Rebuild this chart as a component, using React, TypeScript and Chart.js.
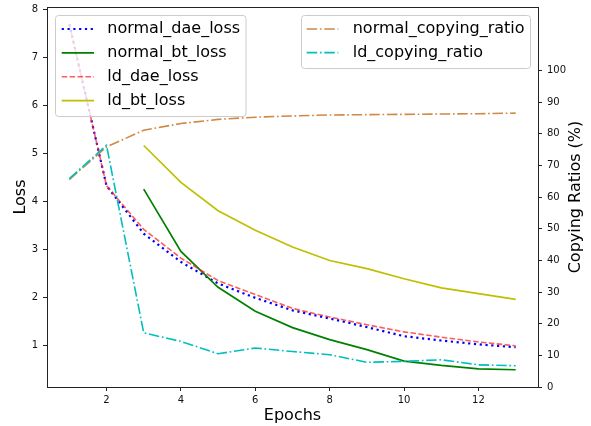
import React, { useEffect, useRef } from 'react';
import { Chart, registerables } from 'chart.js';

Chart.register(...registerables);

const epochs = [1, 2, 3, 4, 5, 6, 7, 8, 9, 10, 11, 12, 13];
const normalDaeLoss = [7.7, 4.33, 3.33, 2.74, 2.29, 1.99, 1.73, 1.56, 1.38, 1.19, 1.1, 1.02, 0.96];
const normalBtLoss = [null, null, 4.26, 2.96, 2.21, 1.71, 1.37, 1.12, 0.91, 0.67, 0.58, 0.51, 0.49];
const ldDaeLoss = [7.7, 4.33, 3.42, 2.82, 2.35, 2.06, 1.77, 1.59, 1.43, 1.28, 1.17, 1.07, 0.99];
const ldBtLoss = [null, null, 5.17, 4.4, 3.81, 3.4, 3.05, 2.77, 2.6, 2.39, 2.2, 2.08, 1.96];
const normalCopyingRatio = [65.5, 75.8, 81.1, 83.2, 84.5, 85.2, 85.6, 85.9, 86.0, 86.1, 86.2, 86.3, 86.5];
const ldCopyingRatio = [65.8, 76.3, 17.1, 14.4, 10.5, 12.3, 11.2, 10.2, 7.8, 8.1, 8.6, 7.0, 6.7];

const xTicks = [2, 4, 6, 8, 10, 12];
const lossTicks = [1, 2, 3, 4, 5, 6, 7, 8];
const ratioTicks = [0, 10, 20, 30, 40, 50, 60, 70, 80, 90, 100];

const xLabel = 'Epochs';
const yLabel = 'Loss';
const y2Label = 'Copying Ratios (%)';

const FONT = '"DejaVu Sans", sans-serif';
const W = 591;
const H = 426;

function pts(vals: (number | null)[]) {
  return epochs
    .map((e, i) => ({ x: e, y: vals[i] }))
    .filter((p) => p.y !== null) as { x: number; y: number }[];
}

const series = [
  { label: 'normal_dae_loss', vals: normalDaeLoss, color: '#0000ff', dash: [2.2, 3.6], width: 2.2, axis: 'y', order: 5 },
  { label: 'normal_bt_loss', vals: normalBtLoss, color: '#008000', dash: [], width: 1.7, axis: 'y', order: 4 },
  { label: 'ld_dae_loss', vals: ldDaeLoss, color: 'rgba(255,30,30,0.72)', dash: [5.5, 2.4], width: 1.6, axis: 'y', order: 3 },
  { label: 'ld_bt_loss', vals: ldBtLoss, color: '#bfbf00', dash: [], width: 1.7, axis: 'y', order: 2 },
  { label: 'normal_copying_ratio', vals: normalCopyingRatio, color: '#d08845', dash: [10.5, 2.7, 1.7, 2.7], width: 1.6, axis: 'y2', order: 1 },
  { label: 'ld_copying_ratio', vals: ldCopyingRatio, color: '#00bfbf', dash: [10.5, 2.7, 1.7, 2.7], width: 1.6, axis: 'y2', order: 0 },
];

const legendBoxes = [
  { items: [0, 1, 2, 3], x: 55.5, y: 15.5, w: 190.5, h: 101, sx0: 61.7, sx1: 94, tx: 107.3, rowY: [29, 52.9, 76.8, 100.7] },
  { items: [4, 5], x: 301.5, y: 15.5, w: 229, h: 53, sx0: 306.7, sx1: 338.3, tx: 352.7, rowY: [29, 52.6] },
];

function roundRect(ctx: CanvasRenderingContext2D, x: number, y: number, w: number, h: number, r: number) {
  ctx.beginPath();
  ctx.moveTo(x + r, y);
  ctx.lineTo(x + w - r, y);
  ctx.arcTo(x + w, y, x + w, y + r, r);
  ctx.lineTo(x + w, y + h - r);
  ctx.arcTo(x + w, y + h, x + w - r, y + h, r);
  ctx.lineTo(x + r, y + h);
  ctx.arcTo(x, y + h, x, y + h - r, r);
  ctx.lineTo(x, y + r);
  ctx.arcTo(x, y, x + r, y, r);
  ctx.closePath();
}

const overlayPlugin = {
  id: 'overlay',
  afterDatasetsDraw(chart: any) {
    const ctx: CanvasRenderingContext2D = chart.ctx;
    const a = chart.chartArea;
    ctx.save();
    // frame (spines)
    ctx.strokeStyle = '#222';
    ctx.lineWidth = 1;
    ctx.setLineDash([]);
    ctx.strokeRect(Math.round(a.left) + 0.5, Math.round(a.top) + 0.5, Math.round(a.right) - Math.round(a.left), Math.round(a.bottom) - Math.round(a.top));

    // legends
    for (const box of legendBoxes) {
      roundRect(ctx, box.x, box.y, box.w, box.h, 3);
      ctx.fillStyle = 'rgba(255,255,255,0.8)';
      ctx.fill();
      ctx.strokeStyle = '#cccccc';
      ctx.lineWidth = 1;
      ctx.stroke();
      box.items.forEach((idx, k) => {
        const s = series[idx];
        const y = box.rowY[k];
        ctx.beginPath();
        ctx.setLineDash(s.dash);
        ctx.lineWidth = s.width;
        ctx.strokeStyle = s.color;
        ctx.lineCap = 'butt';
        ctx.moveTo(box.sx0, y);
        ctx.lineTo(box.sx1, y);
        ctx.stroke();
        ctx.setLineDash([]);
        ctx.fillStyle = '#000';
        ctx.font = `16px ${FONT}`;
        ctx.textAlign = 'left';
        ctx.textBaseline = 'middle';
        ctx.fillText(s.label, box.tx, y);
      });
    }

    // right axis title (reads bottom to top)
    ctx.save();
    ctx.translate(576, (a.top + a.bottom) / 2);
    ctx.rotate(-Math.PI / 2);
    ctx.fillStyle = '#000';
    ctx.font = `16px ${FONT}`;
    ctx.textAlign = 'center';
    ctx.textBaseline = 'middle';
    ctx.fillText(y2Label, 0, 0);
    ctx.restore();
    ctx.restore();
  },
};

function zeroPad(s: any) {
  s.paddingTop = 0;
  s.paddingBottom = 0;
  s.paddingLeft = 0;
  s.paddingRight = 0;
}

export default function App() {
  const ref = useRef<HTMLCanvasElement | null>(null);
  useEffect(() => {
    if (!ref.current) return;
    const tickFont = { family: FONT, size: 10 };
    const grid = { display: true, drawOnChartArea: false, drawTicks: true, tickLength: 4, color: '#222', lineWidth: 1 };
    const chart = new Chart(ref.current, {
      type: 'line',
      data: {
        datasets: series.map((s) => ({
          label: s.label,
          data: pts(s.vals),
          borderColor: s.color,
          backgroundColor: s.color,
          borderDash: s.dash,
          borderWidth: s.width,
          borderCapStyle: 'butt',
          pointRadius: 0,
          pointHoverRadius: 0,
          tension: 0,
          fill: false,
          yAxisID: s.axis,
          order: s.order,
        })),
      },
      options: {
        animation: false,
        responsive: false,
        devicePixelRatio: 1,
        events: [],
        layout: { padding: { top: 7, left: 0, right: 0, bottom: 0 } },
        plugins: { legend: { display: false }, tooltip: { enabled: false } },
        scales: {
          x: {
            type: 'linear',
            min: 0.4,
            max: 13.6,
            grid,
            border: { display: false },
            ticks: { font: tickFont, color: '#111', padding: 3, autoSkip: false, maxRotation: 0 },
            afterBuildTicks: (s: any) => { s.ticks = xTicks.map((v) => ({ value: v })); },
            afterFit: (s: any) => { s.height = 39; zeroPad(s); },
            title: { display: true, text: xLabel, font: { family: FONT, size: 16 }, color: '#000', padding: { top: 0, bottom: 0.5 } },
          },
          y: {
            type: 'linear',
            position: 'left',
            min: 0.13,
            max: 8.06,
            grid,
            border: { display: false },
            ticks: { font: tickFont, color: '#111', padding: 5, autoSkip: false },
            afterBuildTicks: (s: any) => { s.ticks = lossTicks.map((v) => ({ value: v })); },
            afterFit: (s: any) => { s.width = 47; zeroPad(s); },
            title: { display: true, text: yLabel, font: { family: FONT, size: 16 }, color: '#000', padding: { top: 11.4, bottom: 0 } },
          },
          y2: {
            type: 'linear',
            position: 'right',
            min: 0,
            max: 120,
            grid,
            border: { display: false },
            ticks: { font: tickFont, color: '#111', padding: 5, autoSkip: false },
            afterBuildTicks: (s: any) => { s.ticks = ratioTicks.map((v) => ({ value: v })); },
            afterFit: (s: any) => { s.width = 53; zeroPad(s); },
          },
        },
      },
      plugins: [overlayPlugin],
    } as any);
    return () => chart.destroy();
  }, []);
  return (
    <div style={{ position: 'absolute', left: 0, top: 0, width: W, height: H, background: '#fff' }}>
      <canvas ref={ref} width={W} height={H} style={{ width: W, height: H, display: 'block' }} />
    </div>
  );
}
